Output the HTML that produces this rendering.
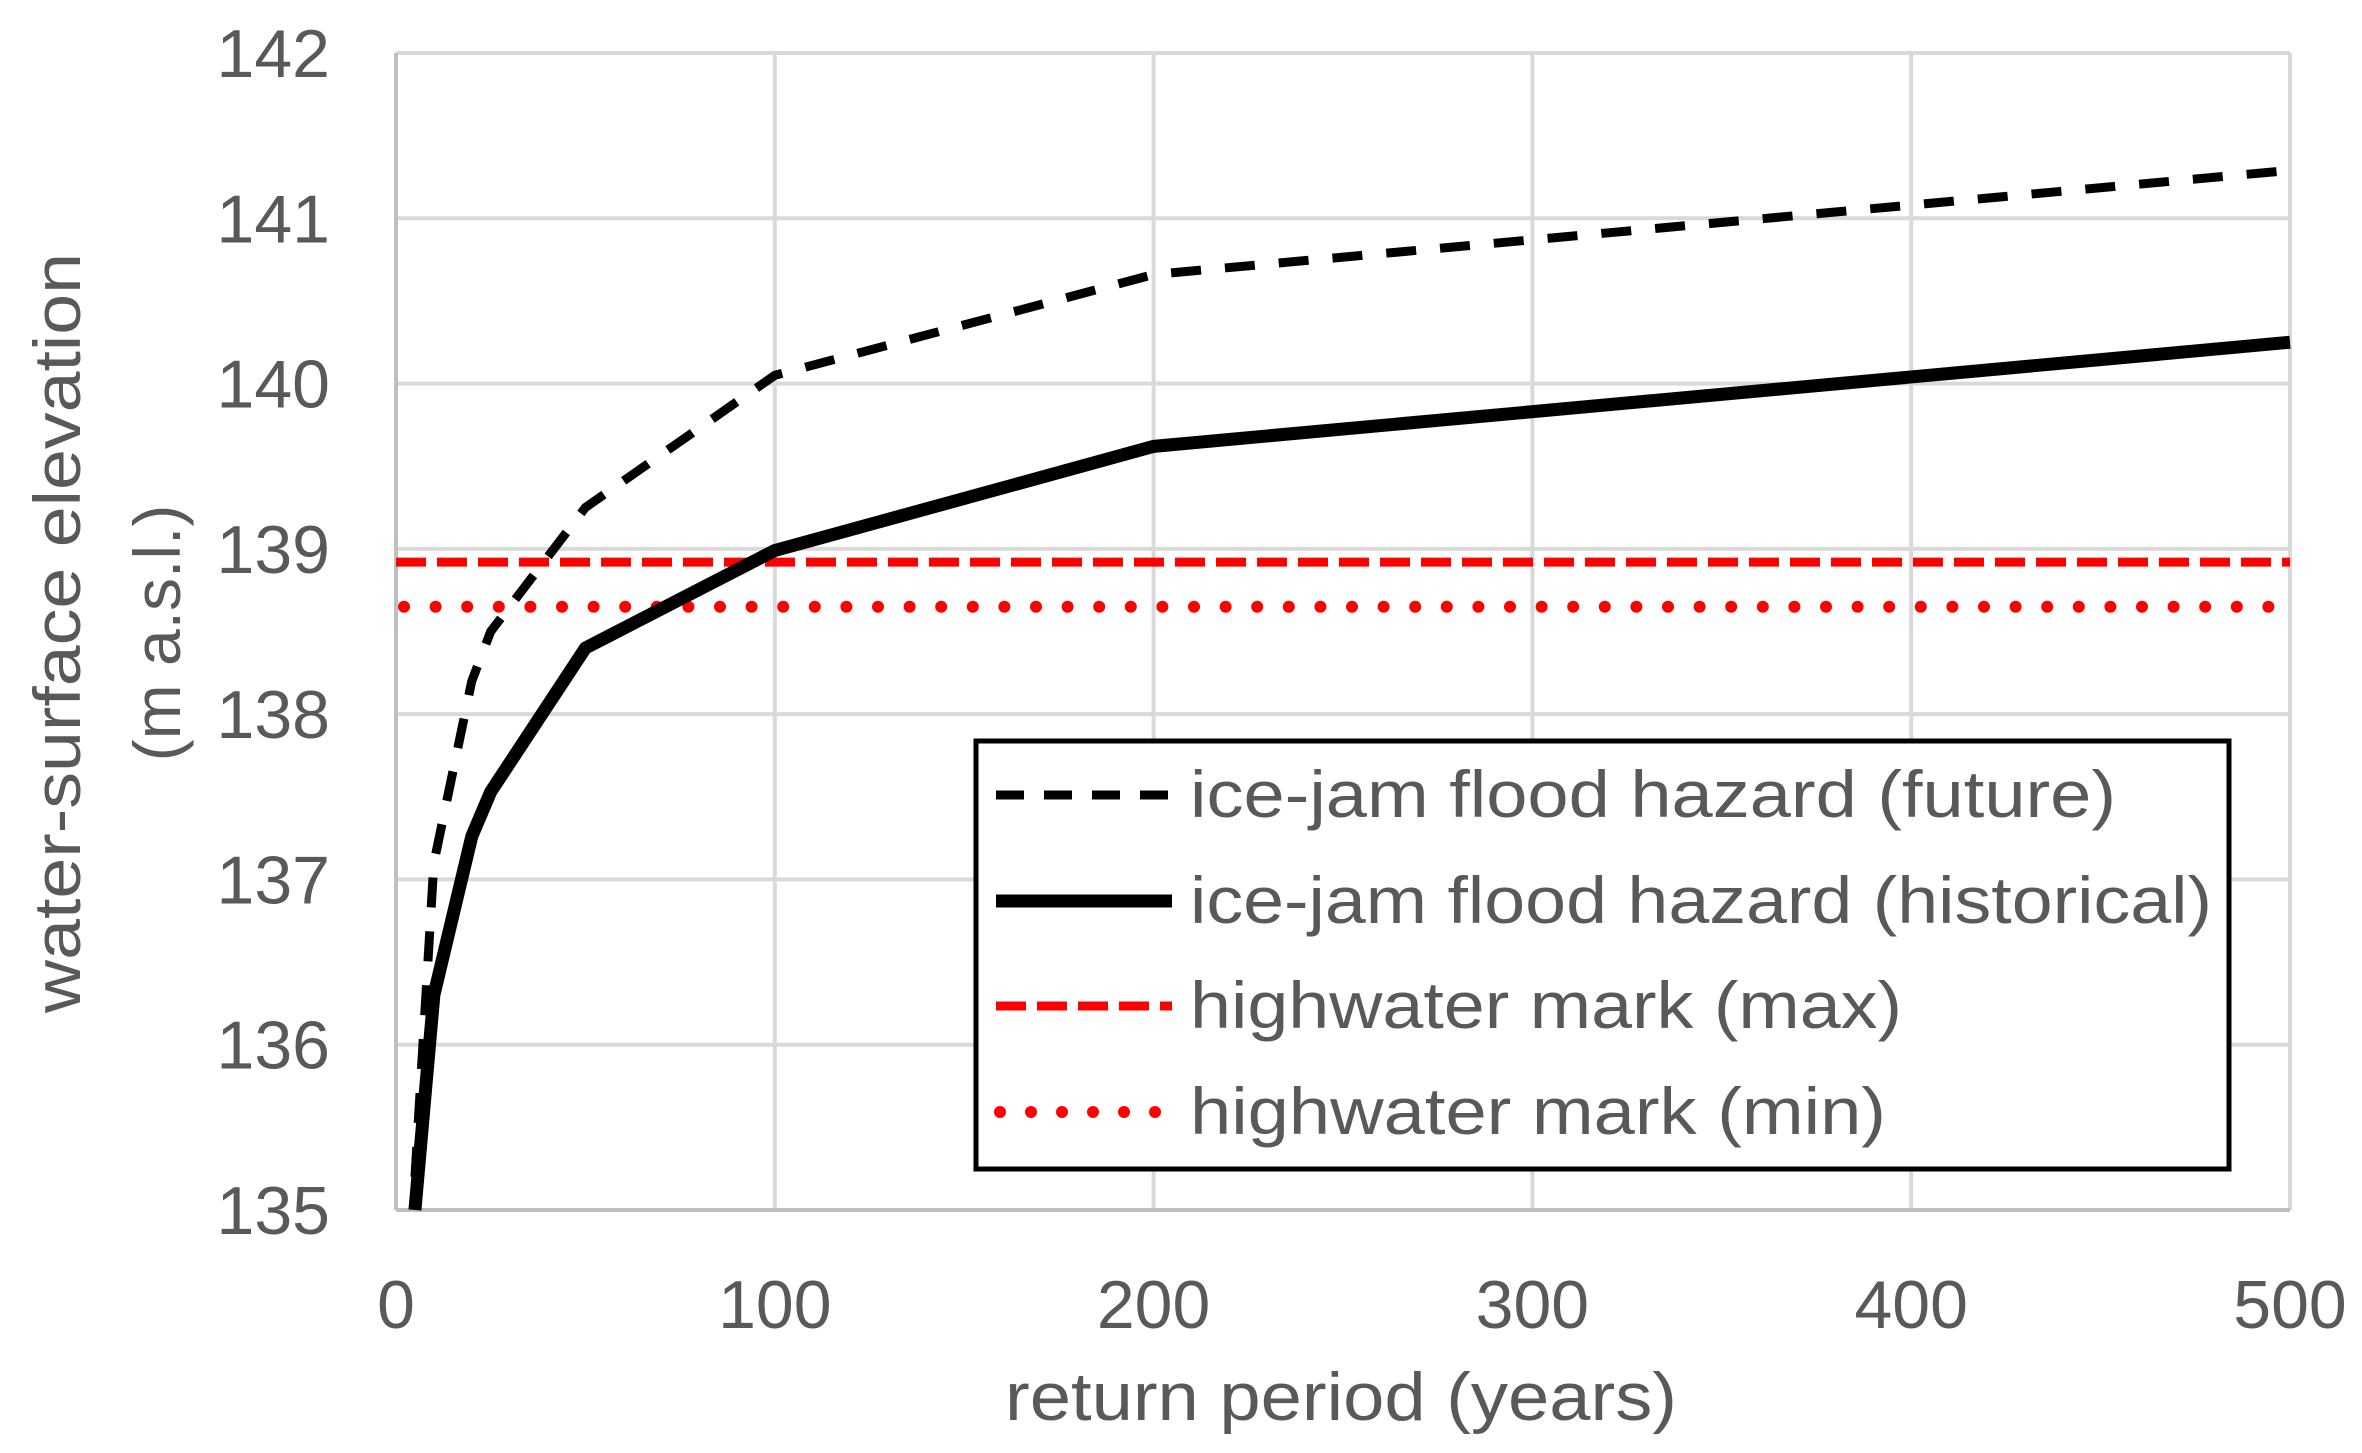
<!DOCTYPE html>
<html><head><meta charset="utf-8"><style>
html,body{margin:0;padding:0;background:#fff}
svg{display:block}
text{font-family:"Liberation Sans",sans-serif;fill:#595959}
</style></head><body>
<svg id="chart" width="2362" height="1453" viewBox="0 0 2362 1453" xmlns="http://www.w3.org/2000/svg">
<g id="grid"></g>
<g id="ticks"></g>
<g id="series"></g>
<text x="1341" y="1420" font-size="68" text-anchor="middle" textLength="672" lengthAdjust="spacingAndGlyphs">return period (years)</text>
<text transform="translate(80,633) rotate(-90)" font-size="66" text-anchor="middle" textLength="760" lengthAdjust="spacingAndGlyphs">water-surface elevation</text>
<text transform="translate(180,633) rotate(-90)" font-size="66" text-anchor="middle">(m a.s.l.)</text>
<g>
<rect x="976" y="741" width="1253" height="428" fill="#fff" stroke="#000" stroke-width="5"/>
<line x1="996" y1="795" x2="1172" y2="795" stroke="#000" stroke-width="9" stroke-dasharray="28,20"/>
<text x="1190" y="817" font-size="66" textLength="926" lengthAdjust="spacingAndGlyphs">ice-jam flood hazard (future)</text>
<line x1="996" y1="901" x2="1172" y2="901" stroke="#000" stroke-width="13"/>
<text x="1190" y="923" font-size="66" textLength="1022" lengthAdjust="spacingAndGlyphs">ice-jam flood hazard (historical)</text>
<line x1="996" y1="1006" x2="1172" y2="1006" stroke="#f00" stroke-width="9" stroke-dasharray="30,11"/>
<text x="1190" y="1028" font-size="66" textLength="712" lengthAdjust="spacingAndGlyphs">highwater mark (max)</text>
<line x1="1000" y1="1112" x2="1165" y2="1112" stroke="#f00" stroke-width="12" stroke-dasharray="0,31" stroke-linecap="round"/>
<text x="1190" y="1134" font-size="66" textLength="696" lengthAdjust="spacingAndGlyphs">highwater mark (min)</text>
</g>
</svg>
<script>
const xTicks=[0,100,200,300,400,500];
const yTicks=[135,136,137,138,139,140,141,142];
const periods=[5,10,20,25,50,100,200,500];
const future=[135.2,137.1,138.2,138.5,139.25,140.05,140.66,141.29];
const historical=[135.0,136.3,137.26,137.53,138.4,138.99,139.62,140.25];
const hwMax=[138.92];
const hwMin=[138.65];
const L=396,R=2290,T=53,B=1210;
const sx=v=>L+(v-0)/(500-0)*(R-L);
const sy=v=>B-(v-135)/(142-135)*(B-T);
const NS='http://www.w3.org/2000/svg';
function mk(tag,parent,attrs){const e=document.createElementNS(NS,tag);for(const k in attrs)e.setAttribute(k,attrs[k]);parent.appendChild(e);return e;}
const grid=document.getElementById('grid'),ticks=document.getElementById('ticks'),series=document.getElementById('series');
yTicks.forEach(v=>{
 const l=mk('line',grid,{x1:L,x2:R,y1:sy(v),y2:sy(v),stroke:'#d9d9d9','stroke-width':4});
 
 
 const t=mk('text',ticks,{x:L-66,y:sy(v)+24,'font-size':68,'text-anchor':'end'});t.textContent=v;
 
 
});
xTicks.forEach(v=>{
 const l=mk('line',grid,{x1:sx(v),x2:sx(v),y1:T,y2:B,stroke:'#d9d9d9','stroke-width':4});
 
 
 const t=mk('text',ticks,{x:sx(v),y:1328,'font-size':68,'text-anchor':'middle'});t.textContent=v;
 
 
});
const ax=mk('line',grid,{x1:L,x2:R,y1:B,y2:B,stroke:'#bfbfbf','stroke-width':4});


const ay=mk('line',grid,{x1:L,x2:L,y1:T,y2:B,stroke:'#bfbfbf','stroke-width':4});


const hmax=mk('line',series,{x1:L,x2:R,y1:sy(hwMax[0]),y2:sy(hwMax[0]),stroke:'#f00','stroke-width':9,'stroke-dasharray':'30,11'});


const hmin=mk('line',series,{x1:L+8,x2:R,y1:sy(hwMin[0]),y2:sy(hwMin[0]),stroke:'#f00','stroke-width':12,'stroke-dasharray':'0,31.6','stroke-linecap':'round'});


const fp=mk('polyline',series,{points:periods.map((p,i)=>sx(p)+','+sy(future[i])).join(' '),fill:'none',stroke:'#000','stroke-width':9,'stroke-dasharray':'30,24'});


const hp=mk('polyline',series,{points:periods.map((p,i)=>sx(p)+','+sy(historical[i])).join(' '),fill:'none',stroke:'#000','stroke-width':13,'stroke-linejoin':'round'});


</script>
</body></html>
